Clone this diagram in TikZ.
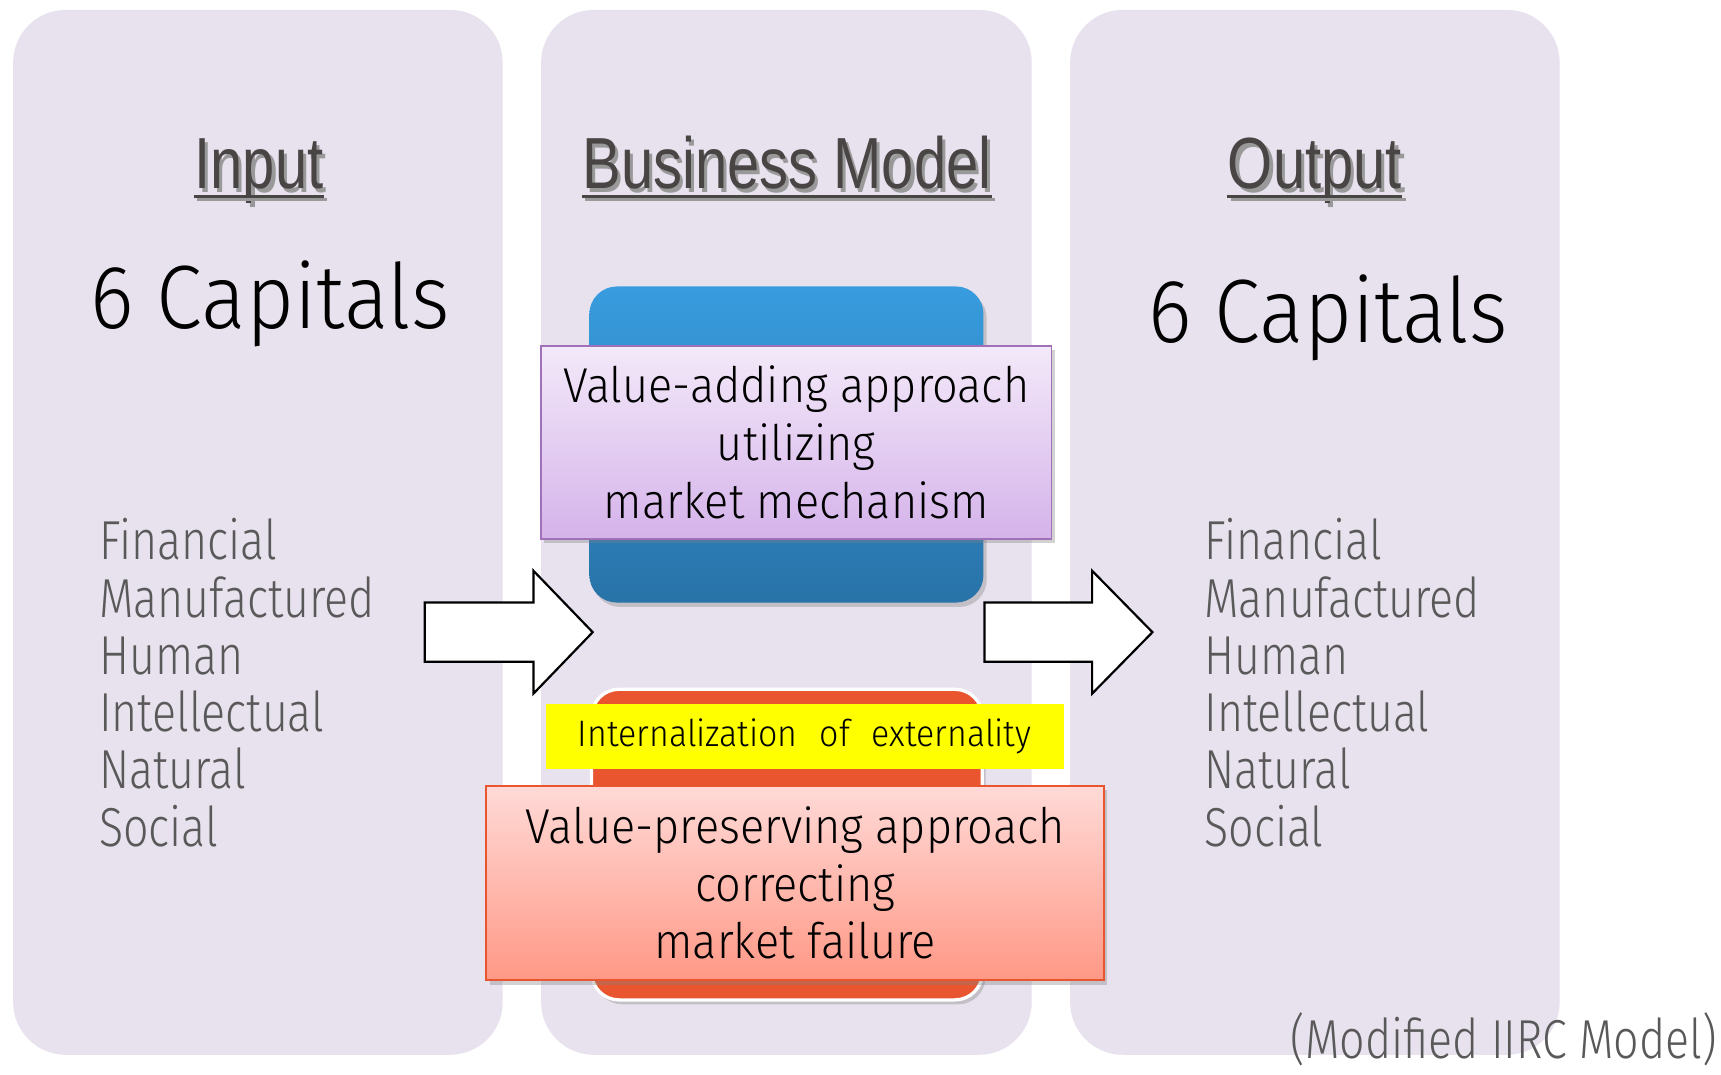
\documentclass[tikz,border=0pt]{standalone}
\usepackage{fontspec}
\setmainfont{Liberation Sans}[FakeStretch=0.8]
\newfontfamily\listfont{Fira Sans Light}[FakeStretch=0.815]
\newfontfamily\boxfont{Fira Sans Light}[FakeStretch=0.92]
\newfontfamily\yelfont{Fira Sans Light}[FakeStretch=0.92]
\usetikzlibrary{shadows}
\definecolor{panelc}{HTML}{E8E1EE}
\definecolor{titlec}{HTML}{4A4545}
\definecolor{listc}{HTML}{595959}
\definecolor{bluetop}{HTML}{389CDE}
\definecolor{bluebot}{HTML}{2873A8}
\definecolor{orangec}{HTML}{E8552F}
\definecolor{purptop}{HTML}{F3E9F9}
\definecolor{purpbot}{HTML}{D5B3EA}
\definecolor{purpdraw}{HTML}{A070B8}
\definecolor{pinktop}{HTML}{FFDAD7}
\definecolor{pinkbot}{HTML}{FF9886}
\definecolor{pinkdraw}{HTML}{E8552F}
\definecolor{yelc}{HTML}{FFFF00}
\begin{document}
\begin{tikzpicture}[x=0.5pt,y=-0.5pt,
  panel/.style={fill=panelc, rounded corners=24pt},
  titletxt/.style={font=\fontsize{33}{36}\selectfont, text=titlec, inner sep=0pt, anchor=base},
  titleshadow/.style={titletxt, text=black!40, xshift=1.5pt, yshift=-1.5pt},
  captxt/.style={font=\boxfont\fontsize{41}{44}\selectfont, text=black, inner sep=0pt, anchor=base},
  listtxt/.style={font=\listfont\fontsize{25}{28}\selectfont, text=listc, inner sep=0pt, anchor=base west},
  boxshadow/.style={drop shadow={opacity=0.35, shadow xshift=1.5pt, shadow yshift=-2pt}},
  bluebox/.style={rounded corners=12.5pt, top color=bluetop, bottom color=bluebot, boxshadow},
  orangebox/.style={rounded corners=12.5pt, fill=orangec, draw=white, line width=1.5pt, boxshadow},
  purpbox/.style={top color=purptop, bottom color=purpbot, draw=purpdraw, line width=0.8pt,
    minimum width=232.5pt, minimum height=88pt, align=center, inner sep=0pt,
    font=\boxfont\fontsize{22.3}{26.25}\selectfont, boxshadow},
  pinkbox/.style={top color=pinktop, bottom color=pinkbot, draw=pinkdraw, line width=0.8pt,
    minimum width=281.5pt, minimum height=88.5pt, align=center, inner sep=0pt,
    font=\boxfont\fontsize{22.3}{26.25}\selectfont, boxshadow},
  yelbox/.style={fill=yelc, minimum width=236pt, minimum height=29.5pt, inner sep=0pt,
    font=\yelfont\fontsize{16.8}{18}\selectfont},
  blockarrow/.style={fill=white, draw=black, line width=1pt, line join=miter},
  ulline/.style={line width=1.5pt, draw=titlec},
  ulshadow/.style={line width=1.5pt, draw=black!40}
]
\useasboundingbox (0,0) rectangle (1568,979);
\fill[white] (0,0) rectangle (1568,979);

% panels
\fill[panel] (12,9) rectangle (458,961);
\fill[panel] (493,9) rectangle (940,961);
\fill[panel] (975,9) rectangle (1421,961);

% titles
\node[titleshadow] at (236,172) {Input};
\node[titletxt] (tin) at (236,172) {Input};
\node[titleshadow] at (717,172) {Business Model};
\node[titletxt] (tbm) at (717,172) {Business Model};
\node[titleshadow] at (1198,172) {Output};
\node[titletxt] (tout) at (1198,172) {Output};
\foreach \n in {tin,tbm,tout}{
  \draw[ulshadow] ([xshift=1.5pt,yshift=-5pt]\n.base west) -- ([xshift=1.5pt,yshift=-5pt]\n.base east);
  \draw[ulline] ([yshift=-3.5pt]\n.base west) -- ([yshift=-3.5pt]\n.base east);
}

% 6 capitals
\node[captxt] (capL) at (246,299) {6 Capitals};
\node[captxt] (capR) at (1210,312) {6 Capitals};

% lists
\foreach \t [count=\i] in {Financial,Manufactured,Human,Intellectual,Natural,Social}{
  \node[listtxt] (L\i) at (90,{510+52.2*(\i-1)}) {\t};
  \node[listtxt] (R\i) at (1097,{510+52.2*(\i-1)}) {\t};
}

% blue box and purple label
\path[bluebox] (537,261) rectangle (896,549);
\node[purpbox] (va) at (725.5,403) {Value-adding approach\\utilizing\\market mechanism};

% orange box, yellow and pink labels
\path[orangebox] (539,628) rectangle (895,911);
\node[yelbox] (ie) at (733,671) {Internalization\hspace{10pt}of\hspace{10pt}externality};
\node[pinkbox] (vp) at (724.5,804.5) {Value-preserving approach\\correcting\\market failure};

% block arrows
\coordinate (a1) at (387,576);
\coordinate (a2) at (897,576);
\draw[blockarrow] (a1) ++(0,-27) -- ++(99,0) -- ++(0,-29) -- (540,576) -- (486,632) -- ++(0,-29) -- ++(-99,0) -- cycle;
\draw[blockarrow] (a2) ++(0,-27) -- ++(98,0) -- ++(0,-29) -- (1050,576) -- (995,632) -- ++(0,-29) -- ++(-98,0) -- cycle;

% footnote
\node[listtxt, anchor=base] (note) at (1370,964) {(Modified IIRC Model)};
\end{tikzpicture}
\end{document}
